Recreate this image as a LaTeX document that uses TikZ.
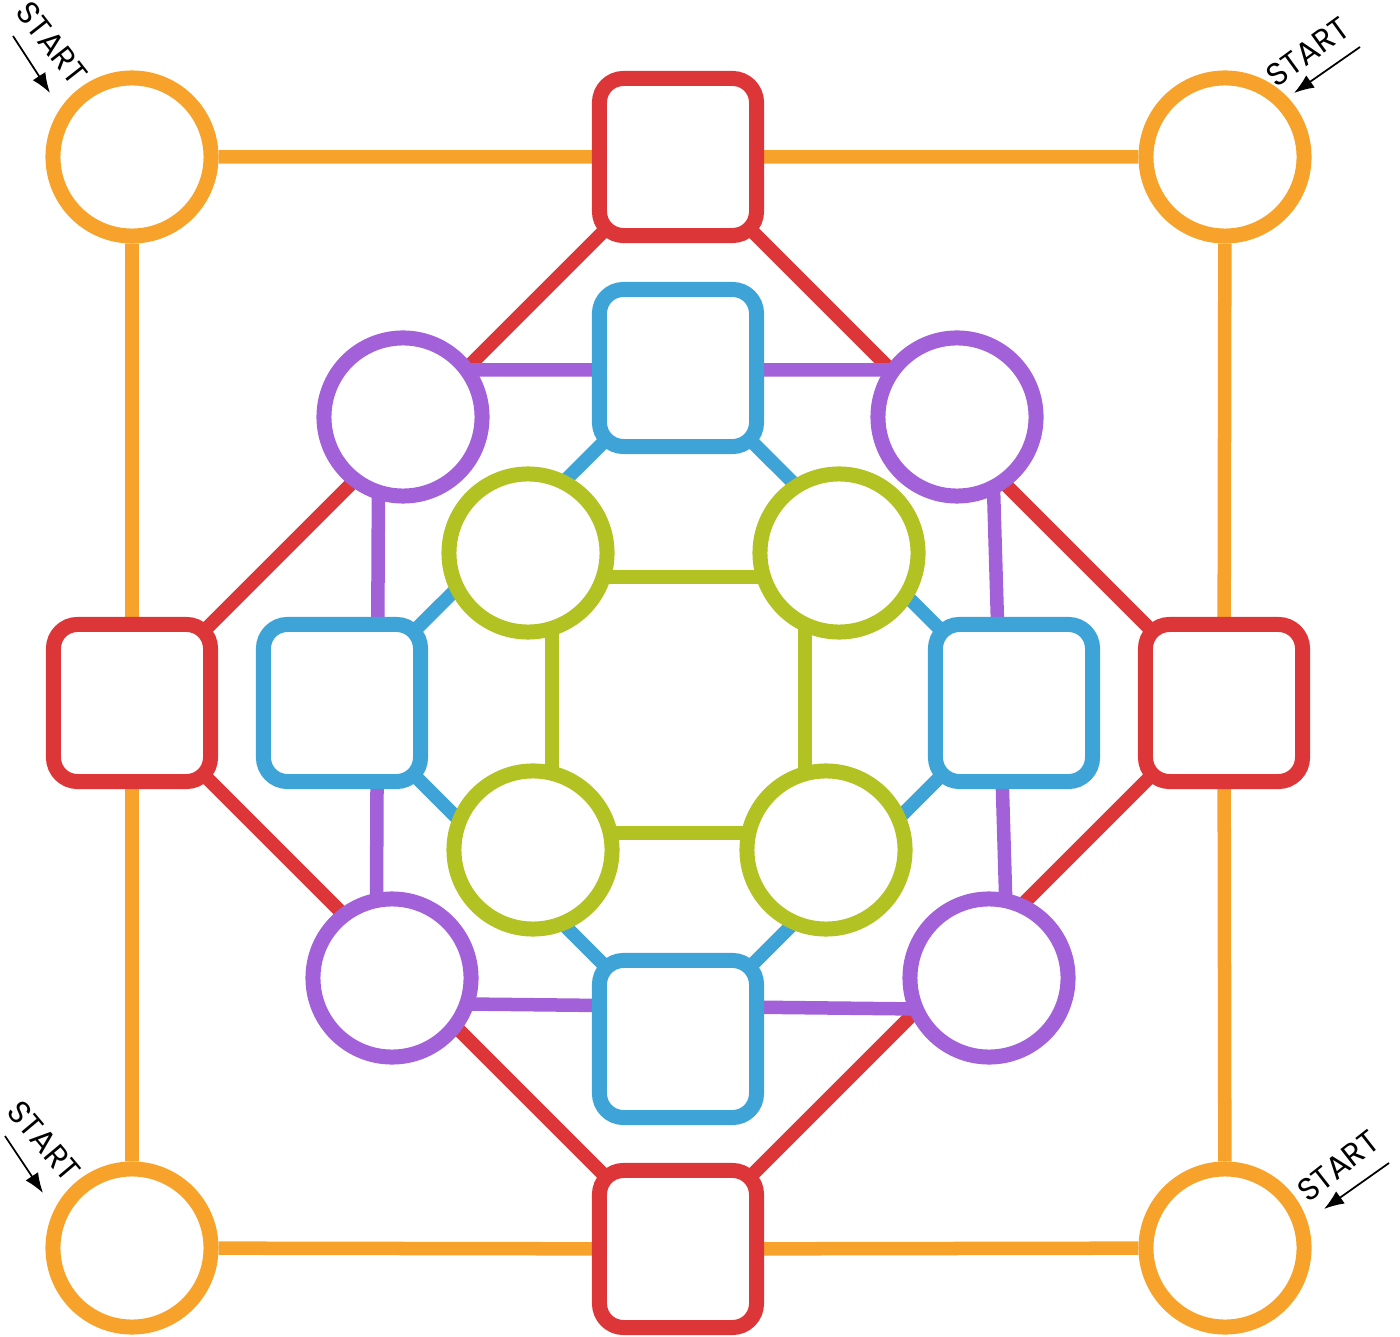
\documentclass[tikz,border=0pt]{standalone}
\usepackage{fontspec}
\usepackage{tikz}
\usetikzlibrary{arrows.meta,backgrounds}
\newfontfamily\startfont{Poppins}

\definecolor{boardorange}{RGB}{247,163,43}
\definecolor{boardred}{RGB}{221,54,56}
\definecolor{boardpurple}{RGB}{162,97,217}
\definecolor{boardblue}{RGB}{62,163,215}
\definecolor{boardgreen}{RGB}{178,194,35}

\begin{document}
\begin{tikzpicture}[x=0.01cm,y=-0.01cm,
    ring/.style={circle,draw,fill=white,line width=0.15cm,minimum size=1.58cm,inner sep=0pt},
    box/.style={rectangle,rounded corners=0.24cm,draw,fill=white,line width=0.15cm,minimum size=1.57cm,inner sep=0pt},
    link/.style={line width=0.135cm},
    starttext/.style={font=\startfont\fontsize{9}{10}\selectfont,inner sep=0pt},
    startarrow/.style={-{Latex[length=2mm,width=1.5mm]},line width=0.5pt}]
    \useasboundingbox (0,0) rectangle (1400,1337);

    % Outer corner circles
    \node[ring,draw=boardorange] (oTL) at (132,157) {};
    \node[ring,draw=boardorange] (oTR) at (1225,157) {};
    \node[ring,draw=boardorange] (oBL) at (132,1248) {};
    \node[ring,draw=boardorange] (oBR) at (1225,1248) {};

    % Red squares
    \node[box,draw=boardred] (rT) at (678,157) {};
    \node[box,draw=boardred] (rL) at (132,703) {};
    \node[box,draw=boardred] (rR) at (1224,703) {};
    \node[box,draw=boardred] (rB) at (678,1249) {};

    % Purple circles
    \node[ring,draw=boardpurple] (pTL) at (403,417) {};
    \node[ring,draw=boardpurple] (pTR) at (957,417) {};
    \node[ring,draw=boardpurple] (pBL) at (392,978) {};
    \node[ring,draw=boardpurple] (pBR) at (989,978) {};

    % Blue squares
    \node[box,draw=boardblue] (bT) at (678,368) {};
    \node[box,draw=boardblue] (bL) at (342,703) {};
    \node[box,draw=boardblue] (bR) at (1014,703) {};
    \node[box,draw=boardblue] (bB) at (678,1039) {};

    % Green circles
    \node[ring,draw=boardgreen] (gTL) at (528,553) {};
    \node[ring,draw=boardgreen] (gTR) at (839,553) {};
    \node[ring,draw=boardgreen] (gBL) at (533,850) {};
    \node[ring,draw=boardgreen] (gBR) at (826,850) {};

    % Corners of the purple and green tracks
    \coordinate (pA) at (379,370);
    \coordinate (pB) at (990,370);
    \coordinate (pC) at (1009,1010);
    \coordinate (pD) at (376,1003);
    \coordinate (gA) at (552,577);
    \coordinate (gB) at (805,577);
    \coordinate (gC) at (805,833);
    \coordinate (gD) at (552,833);

    \begin{pgfonlayer}{background}
        % Orange track
        \draw[link,boardorange] (oTL) -- (rT) -- (oTR) -- (rR) -- (oBR) -- (rB) -- (oBL) -- (rL) -- (oTL);
        % Red track
        \draw[link,boardred] (rT.center) -- (rR.center) -- (rB.center) -- (rL.center) -- cycle;
        % Purple track
        \draw[link,boardpurple] (pA) -- (pB) -- (pC) -- (pD) -- cycle;
        % Blue track
        \draw[link,boardblue] (bT.center) -- (bR.center) -- (bB.center) -- (bL.center) -- cycle;
        % Green track
        \draw[link,boardgreen] (gA) -- (gB) -- (gC) -- (gD) -- cycle;
    \end{pgfonlayer}

    % Start marks
    \node[starttext,rotate=-52] (sTL) at (52,43) {START};
    \node[starttext,rotate=36] (sTR) at (1308,52) {START};
    \node[starttext,rotate=-50] (sBL) at (44,1141) {START};
    \node[starttext,rotate=38] (sBR) at (1338,1166) {START};

    \coordinate (aTL1) at (13,36);
    \coordinate (aTL2) at (50,93);
    \coordinate (aTR1) at (1360,47);
    \coordinate (aTR2) at (1294,93);
    \coordinate (aBL1) at (5,1136);
    \coordinate (aBL2) at (43,1193);
    \coordinate (aBR1) at (1389,1163);
    \coordinate (aBR2) at (1324,1209);
    \draw[startarrow] (aTL1) -- (aTL2);
    \draw[startarrow] (aTR1) -- (aTR2);
    \draw[startarrow] (aBL1) -- (aBL2);
    \draw[startarrow] (aBR1) -- (aBR2);
\end{tikzpicture}
\end{document}
